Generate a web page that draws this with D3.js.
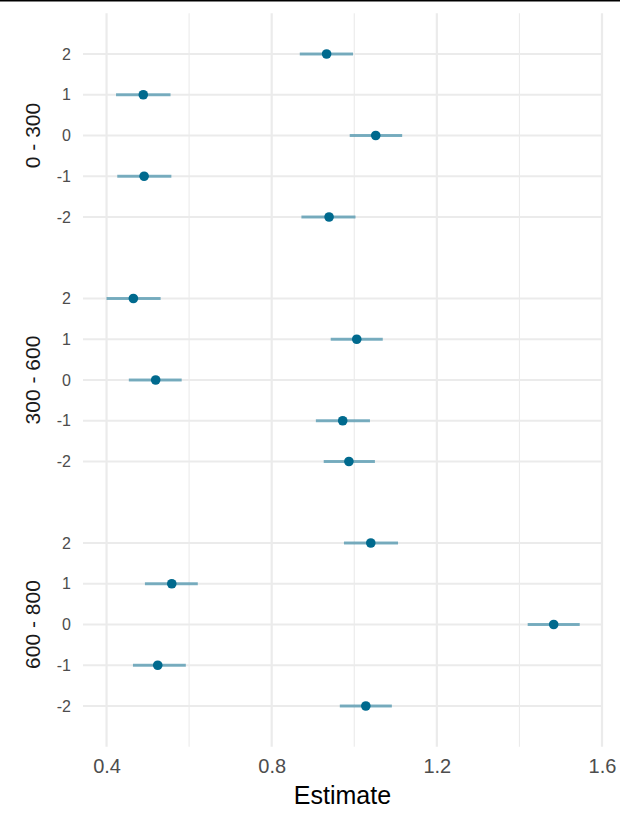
<!DOCTYPE html>
<html>
<head>
<meta charset="utf-8">
<script src="https://cdn.jsdelivr.net/npm/d3@7"></script>
<style>
  body { margin: 0; background: #fff; }
  svg { display: block; font-family: "Liberation Sans", Arial, sans-serif; }
</style>
</head>
<body>
<svg></svg>
<script>
// facet groups (top to bottom) and levels inside each facet
var groups = ["0 - 300", "300 - 600", "600 - 800"];
var levels = [2, 1, 0, -1, -2];

// estimates and intervals, one row per group, in the order of levels
var estimate = [
  [0.933, 0.489, 1.052, 0.491, 0.939],
  [0.465, 1.006, 0.519, 0.972, 0.987],
  [1.040, 0.558, 1.483, 0.524, 1.028]
];
var lower = [
  [0.868, 0.423, 0.989, 0.426, 0.872],
  [0.400, 0.943, 0.454, 0.907, 0.926],
  [0.975, 0.493, 1.420, 0.464, 0.965]
];
var upper = [
  [0.997, 0.555, 1.116, 0.557, 1.003],
  [0.531, 1.069, 0.582, 1.038, 1.050],
  [1.106, 0.621, 1.546, 0.592, 1.091]
];

var xTicks = [0.4, 0.8, 1.2, 1.6];
var xMinor = [0.6, 1.0, 1.4];

var svgWidth = 620,
  svgHeight = 822,
  panelLeft = 83,
  panelRight = 602,
  panelTop = 13.25,
  panelHeight = 244.5;

var svg = d3.select("svg").attr("width", svgWidth).attr("height", svgHeight);

var x = d3.scaleLinear().domain([0.343, 1.6]).range([panelLeft, panelRight]);

// flatten to rows for drawing
var rows = [];
groups.forEach(function (g, gi) {
  levels.forEach(function (lv, li) {
    rows.push({
      group: gi,
      level: lv,
      est: estimate[gi][li],
      lo: lower[gi][li],
      hi: upper[gi][li]
    });
  });
});

function yScale(gi) {
  var top = panelTop + gi * panelHeight;
  return d3.scaleLinear().domain([-3, 3]).range([top + panelHeight, top]);
}

var bottom = panelTop + groups.length * panelHeight;

// minor vertical grid
svg.append("g")
  .selectAll("line")
  .data(xMinor)
  .enter()
  .append("line")
  .attr("x1", function (d) { return x(d); })
  .attr("x2", function (d) { return x(d); })
  .attr("y1", panelTop)
  .attr("y2", bottom)
  .attr("stroke", "#ebebeb")
  .attr("stroke-width", 1.1);

// major vertical grid
svg.append("g")
  .selectAll("line")
  .data(xTicks)
  .enter()
  .append("line")
  .attr("x1", function (d) { return x(d); })
  .attr("x2", function (d) { return x(d); })
  .attr("y1", panelTop)
  .attr("y2", bottom)
  .attr("stroke", "#ebebeb")
  .attr("stroke-width", 2.2);

// each facet: horizontal grid, y axis labels, strip label
groups.forEach(function (g, gi) {
  var y = yScale(gi);

  svg.append("g")
    .selectAll("line")
    .data(levels)
    .enter()
    .append("line")
    .attr("x1", panelLeft)
    .attr("x2", panelRight)
    .attr("y1", function (d) { return y(d); })
    .attr("y2", function (d) { return y(d); })
    .attr("stroke", "#ebebeb")
    .attr("stroke-width", 2.2);

  var yAxis = svg.append("g")
    .attr("transform", "translate(" + (panelLeft - 12) + ",0)")
    .call(d3.axisLeft(y).tickValues(levels).tickSize(0).tickPadding(0)
      .tickFormat(function (d) { return String(d); }));
  yAxis.select(".domain").remove();
  yAxis.selectAll("text")
    .attr("fill", "#4d4d4d")
    .attr("font-size", 16)
    .attr("font-family", "Liberation Sans, Arial, sans-serif");

  svg.append("text")
    .attr("transform", "translate(40," + (y(0)) + ") rotate(-90)")
    .attr("text-anchor", "middle")
    .attr("fill", "#1a1a1a")
    .attr("font-size", 21)
    .text(g);
});

// error bars
svg.append("g")
  .selectAll("line")
  .data(rows)
  .enter()
  .append("line")
  .attr("x1", function (d) { return x(d.lo); })
  .attr("x2", function (d) { return x(d.hi); })
  .attr("y1", function (d) { return yScale(d.group)(d.level); })
  .attr("y2", function (d) { return yScale(d.group)(d.level); })
  .attr("stroke", "#006a8e")
  .attr("stroke-opacity", 0.5)
  .attr("stroke-width", 3);

// points
svg.append("g")
  .selectAll("circle")
  .data(rows)
  .enter()
  .append("circle")
  .attr("cx", function (d) { return x(d.est); })
  .attr("cy", function (d) { return yScale(d.group)(d.level); })
  .attr("r", 4.8)
  .attr("fill", "#006a8e");

// x axis labels
var xAxis = svg.append("g")
  .attr("transform", "translate(0," + (bottom + 12) + ")")
  .call(d3.axisBottom(x).tickValues(xTicks).tickSize(0).tickPadding(0).tickFormat(d3.format(".1f")));
xAxis.select(".domain").remove();
xAxis.selectAll("text")
  .attr("fill", "#4d4d4d")
  .attr("font-size", 20)
  .attr("font-family", "Liberation Sans, Arial, sans-serif");

svg.append("text")
  .attr("x", (panelLeft + panelRight) / 2)
  .attr("y", 804)
  .attr("text-anchor", "middle")
  .attr("fill", "#000")
  .attr("font-size", 25)
  .text("Estimate");

// thin black rule across the top edge
svg.append("rect")
  .attr("x", 0)
  .attr("y", 0)
  .attr("width", svgWidth)
  .attr("height", 1.5)
  .attr("fill", "#000");
</script>
</body>
</html>
